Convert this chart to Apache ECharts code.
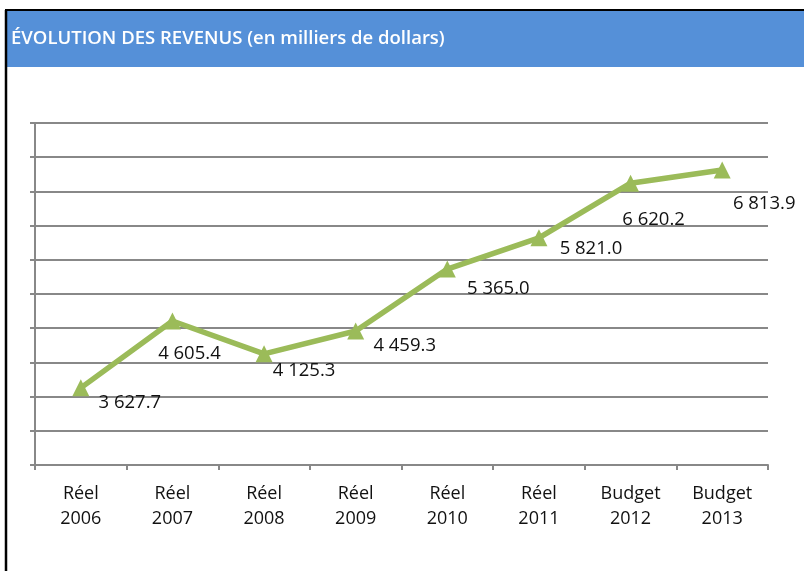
<!DOCTYPE html>
<html>
<head>
<meta charset="utf-8">
<script src="https://cdn.jsdelivr.net/npm/echarts@6/dist/echarts.min.js"></script>
<style>
html,body{margin:0;padding:0;background:#fff;}
#c{width:804px;height:571px;}
</style>
</head>
<body>
<div id="c"></div>
<script>
var categories = ["Réel\n2006","Réel\n2007","Réel\n2008","Réel\n2009","Réel\n2010","Réel\n2011","Budget\n2012","Budget\n2013"];
var revenus = [3627.7, 4605.4, 4125.3, 4459.3, 5365.0, 5821.0, 6620.2, 6813.9];
var titleText = "ÉVOLUTION DES REVENUS (en milliers de dollars)";
// label nudges (style only)
var labelShift = [[49,15],[17,33],[40,17],[49,15],[51,20],[52,11],[23,37],[42,34]];

function fmt(v){
  var s = v.toFixed(1).split('.');
  var i = s[0].replace(/\B(?=(\d{3})+(?!\d))/g,' ');
  return i + '.' + s[1];
}

var chart = echarts.init(document.getElementById('c'), null, {renderer:'canvas'});
chart.setOption({
  animation:false,
  backgroundColor:'#fff',
  graphic:[
    {type:'rect', shape:{x:6,y:10,width:798,height:57}, style:{fill:'#5590D8'}, z:0},
    {type:'line', shape:{x1:5,y1:10,x2:804,y2:10}, style:{stroke:'#000',lineWidth:2}},
    {type:'line', shape:{x1:6,y1:10,x2:6,y2:571}, style:{stroke:'#000',lineWidth:2.5}},
    {type:'text', left:11, top:29, style:{text:titleText, fill:'#fff', font:'600 18.5px "Open Sans"'}}
  ],
  grid:{left:35,right:36,top:123,bottom:106,containLabel:false},
  xAxis:{
    type:'category', data:categories, boundaryGap:true,
    axisLine:{show:true,lineStyle:{color:'#888',width:2}},
    axisTick:{show:true,length:5,lineStyle:{color:'#888',width:2}},
    axisLabel:{color:'#111',fontSize:18,fontFamily:'Open Sans',lineHeight:25,margin:16,interval:0}
  },
  yAxis:{
    type:'value', min:2500, max:7500, interval:500,
    axisLine:{show:true,lineStyle:{color:'#888',width:2}},
    axisTick:{show:true,length:5,lineStyle:{color:'#888',width:2}},
    axisLabel:{show:false},
    splitLine:{show:true,lineStyle:{color:'#888',width:2}}
  },
  series:[{
    type:'line',
    data:revenus.map(function(v,i){
      return {value:v, label:{offset:labelShift[i]}};
    }),
    lineStyle:{color:'#9BBB59',width:5.5},
    itemStyle:{color:'#9BBB59'},
    symbol:'triangle', symbolSize:17,
    label:{show:true, position:'inside', color:'#111', fontSize:18.5, fontFamily:'Open Sans',
      formatter:function(p){return fmt(p.value);}}
  }]
});
</script>
</body>
</html>
